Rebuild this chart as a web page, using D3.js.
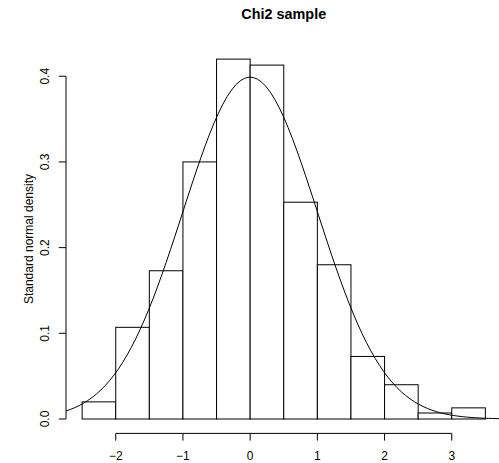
<!DOCTYPE html>
<html>
<head>
<meta charset="utf-8">
<script src="https://cdn.jsdelivr.net/npm/d3@7"></script>
<style>
  body { margin: 0; background: #fff; }
  svg { display: block; font-family: "Liberation Sans", Arial, sans-serif; }
</style>
</head>
<body>
<div id="chart"></div>
<script>
// histogram bins (left edges, width 0.5) and densities
const binStarts = [-2.5, -2, -1.5, -1, -0.5, 0, 0.5, 1, 1.5, 2, 2.5, 3];
const binWidth = 0.5;
const densities = [0.020, 0.107, 0.173, 0.300, 0.420, 0.413, 0.253, 0.180, 0.073, 0.040, 0.007, 0.013];
const xTicks = [-2, -1, 0, 1, 2, 3];
const yTicks = [0, 0.1, 0.2, 0.3, 0.4];

const width = 499, height = 463;
const plot = {left: 66, right: 501.5, top: 44.7, bottom: 433.4};

const svg = d3.select("#chart").append("svg")
  .attr("width", width)
  .attr("height", height);

// R-style usr extents (4% padding)
const x = d3.scaleLinear().domain([-2.74, 3.74]).range([plot.left, plot.right]);
const y = d3.scaleLinear().domain([-0.0168, 0.4368]).range([plot.bottom, plot.top]);

const bins = binStarts.map((b, i) => ({x0: b, x1: b + binWidth, d: densities[i]}));

svg.append("g")
  .selectAll("rect")
  .data(bins)
  .enter()
  .append("rect")
  .attr("x", d => x(d.x0))
  .attr("y", d => y(d.d))
  .attr("width", d => x(d.x1) - x(d.x0))
  .attr("height", d => y(0) - y(d.d))
  .attr("fill", "#fff")
  .attr("stroke", "#000")
  .attr("stroke-width", 1);

// standard normal density curve across the plot region
const dnorm = v => Math.exp(-v * v / 2) / Math.sqrt(2 * Math.PI);
const curvePts = d3.range(101).map(i => {
  const v = -2.74 + i * (3.74 + 2.74) / 100;
  return [v, dnorm(v)];
});
svg.append("path")
  .datum(curvePts)
  .attr("d", d3.line().x(d => x(d[0])).y(d => y(d[1])))
  .attr("fill", "none")
  .attr("stroke", "#000")
  .attr("stroke-width", 1);

// x axis, R style
const xAxis = svg.append("g").attr("transform", `translate(0,${plot.bottom})`);
xAxis.append("line")
  .attr("x1", x(xTicks[0])).attr("x2", x(xTicks[xTicks.length - 1]))
  .attr("stroke", "#000");
xAxis.selectAll(".tick")
  .data(xTicks)
  .enter()
  .append("line")
  .attr("x1", d => x(d)).attr("x2", d => x(d))
  .attr("y1", 0).attr("y2", 7.2)
  .attr("stroke", "#000");
xAxis.selectAll("text")
  .data(xTicks)
  .enter()
  .append("text")
  .attr("x", d => x(d))
  .attr("y", 26.6)
  .attr("text-anchor", "middle")
  .attr("font-size", "12px")
  .text(d => d < 0 ? "\u2212" + Math.abs(d) : d);

// y axis
const yAxis = svg.append("g").attr("transform", `translate(${plot.left},0)`);
yAxis.append("line")
  .attr("y1", y(yTicks[0])).attr("y2", y(yTicks[yTicks.length - 1]))
  .attr("stroke", "#000");
yAxis.selectAll(".tick")
  .data(yTicks)
  .enter()
  .append("line")
  .attr("y1", d => y(d)).attr("y2", d => y(d))
  .attr("x1", 0).attr("x2", -7.2)
  .attr("stroke", "#000");
yAxis.selectAll("text")
  .data(yTicks)
  .enter()
  .append("text")
  .attr("transform", d => `translate(-17,${y(d)}) rotate(-90)`)
  .attr("text-anchor", "middle")
  .attr("font-size", "12px")
  .text(d => d3.format(".1f")(d));

svg.append("text")
  .attr("transform", `translate(${plot.left - 33.5},${(plot.top + plot.bottom) / 2}) rotate(-90)`)
  .attr("text-anchor", "middle")
  .attr("font-size", "12px")
  .text("Standard normal density");

svg.append("text")
  .attr("x", (plot.left + plot.right) / 2)
  .attr("y", 19)
  .attr("text-anchor", "middle")
  .attr("font-size", "14.4px")
  .attr("font-weight", "bold")
  .text("Chi2 sample");
</script>
</body>
</html>
